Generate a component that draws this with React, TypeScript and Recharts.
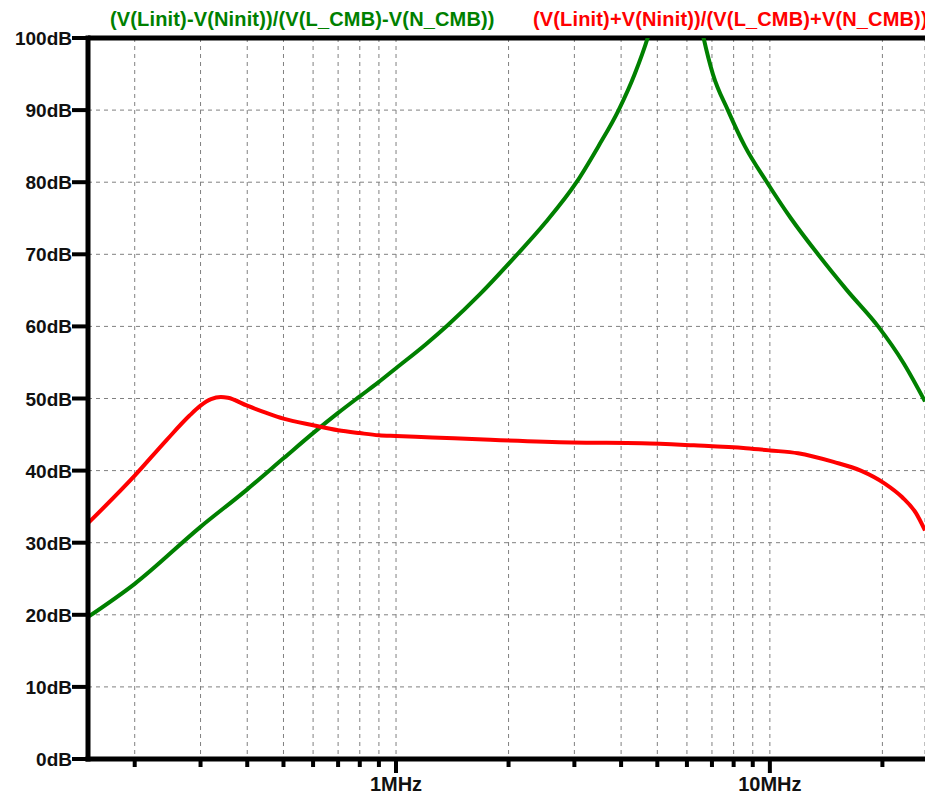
import { LineChart, Line, XAxis, YAxis, CartesianGrid, ReferenceLine } from 'recharts';

// frequencies in Hz, levels in dB
const greenFreq = [
  150e3, 200e3, 300e3, 400e3, 500e3, 600e3, 700e3, 800e3, 900e3, 1.0e6, 1.2e6, 1.37e6, 1.68e6,
  2.06e6, 2.51e6, 3.04e6, 3.48e6, 3.94e6, 4.35e6, 4.71e6, 4.95e6, 5.63e6,
  6.41e6, 6.65e6, 7.04e6, 7.72e6, 8.57e6, 9.82e6, 11.38e6, 13.45e6, 16.09e6, 19.48e6,
  22.73e6, 26.0e6,
];
const greenDb = [
  19.7, 24.3, 32.2, 37.4, 41.7, 45.2, 48.0, 50.3, 52.3, 54.2, 57.5, 60.1, 64.5,
  69.4, 74.4, 80, 85, 90, 95, 100, 104, 120,
  104, 100, 95, 90, 85, 80, 75, 70, 65, 60,
  55, 49.6,
];

const redFreq = [
  150e3, 200e3, 243e3, 280e3, 300e3, 320e3, 340e3, 355e3, 400e3, 450e3, 500e3, 600e3, 700e3,
  800e3, 900e3, 1.0e6, 1.25e6, 1.72e6, 2.95e6, 4.54e6, 6.26e6, 8.63e6, 10.0e6, 11.9e6,
  14.8e6, 17.5e6, 20.3e6, 22.6e6, 24.6e6, 26.0e6,
];
const redDb = [
  32.7, 39.3, 44.2, 47.6, 49.0, 49.9, 50.2, 50.1, 49.0, 48.0, 47.2, 46.3, 45.6,
  45.2, 44.9, 44.8, 44.6, 44.3, 43.9, 43.8, 43.5, 43.1, 42.8, 42.4,
  41.2, 40.0, 38.2, 36.3, 34.1, 31.7,
];

const xTicks = [
  2e5, 3e5, 4e5, 5e5, 6e5, 7e5, 8e5, 9e5, 1e6,
  2e6, 3e6, 4e6, 5e6, 6e6, 7e6, 8e6, 9e6, 1e7, 2e7,
];
const xLabels: Record<number, string> = { 1000000: '1MHz', 10000000: '10MHz' };
const yTicks = [0, 10, 20, 30, 40, 50, 60, 70, 80, 90, 100];

const greenLabel = '(V(Linit)-V(Ninit))/(V(L_CMB)-V(N_CMB))';
const redLabel = '(V(Linit)+V(Ninit))/(V(L_CMB)+V(N_CMB))';

const GREEN = '#008000';
const RED = '#ff0000';
const FONT = '"Liberation Sans", Arial, sans-serif';

const greenData = greenFreq.map((f, i) => ({ f, db: greenDb[i] }));
const redData = redFreq.map((f, i) => ({ f, db: redDb[i] }));

function XTick({ x, y, payload }: any) {
  const label = xLabels[payload.value];
  return (
    <g>
      <line x1={x} x2={x} y1={y} y2={y + (label ? 14 : 8)} stroke="#000" strokeWidth={4} />
      {label && (
        <text x={x} y={y + 32} textAnchor="middle" fontFamily={FONT} fontWeight="bold" fontSize={20} fill="#111">
          {label}
        </text>
      )}
    </g>
  );
}

function YTick({ x, y, payload }: any) {
  return (
    <g>
      <line x1={x - 16} x2={x} y1={y} y2={y} stroke="#000" strokeWidth={4} />
      <text x={x - 16} y={y + 7} textAnchor="end" fontFamily={FONT} fontWeight="bold" fontSize={19} fill="#111">
        {payload.value}dB
      </text>
    </g>
  );
}

const legendStyle = {
  position: 'absolute' as const,
  top: 8,
  fontFamily: FONT,
  fontWeight: 'bold',
  fontSize: 20,
  letterSpacing: 0.15,
  whiteSpace: 'nowrap' as const,
};

export default function App() {
  return (
    <div style={{ position: 'absolute', left: 0, top: 0, width: 925, height: 795, overflow: 'hidden', background: '#fff' }}>
      <LineChart width={925} height={795} margin={{ top: 38, right: 0, left: 0, bottom: 0 }}>
        <CartesianGrid stroke="#808080" strokeDasharray="4 4" />
        <XAxis
          dataKey="f"
          type="number"
          scale="log"
          domain={[150000, 26000000]}
          allowDataOverflow
          ticks={xTicks}
          interval={0}
          height={36}
          tickLine={false}
          tickSize={0}
          tickMargin={0}
          axisLine={{ stroke: '#000', strokeWidth: 5, strokeLinecap: 'square' }}
          tick={<XTick />}
        />
        <YAxis
          type="number"
          domain={[0, 100]}
          allowDataOverflow
          ticks={yTicks}
          interval={0}
          width={88}
          tickLine={false}
          tickSize={0}
          tickMargin={0}
          axisLine={{ stroke: '#000', strokeWidth: 5, strokeLinecap: 'square' }}
          tick={<YTick />}
        />
        <ReferenceLine y={100} stroke="#000" strokeWidth={5} />
        <Line data={greenData} dataKey="db" type="monotone" stroke={GREEN} strokeWidth={4} dot={false} isAnimationActive={false} />
        <Line data={redData} dataKey="db" type="monotone" stroke={RED} strokeWidth={4} dot={false} isAnimationActive={false} />
      </LineChart>
      <div style={{ ...legendStyle, left: 110, color: GREEN }}>{greenLabel}</div>
      <div style={{ ...legendStyle, left: 533, color: RED }}>{redLabel}</div>
    </div>
  );
}
